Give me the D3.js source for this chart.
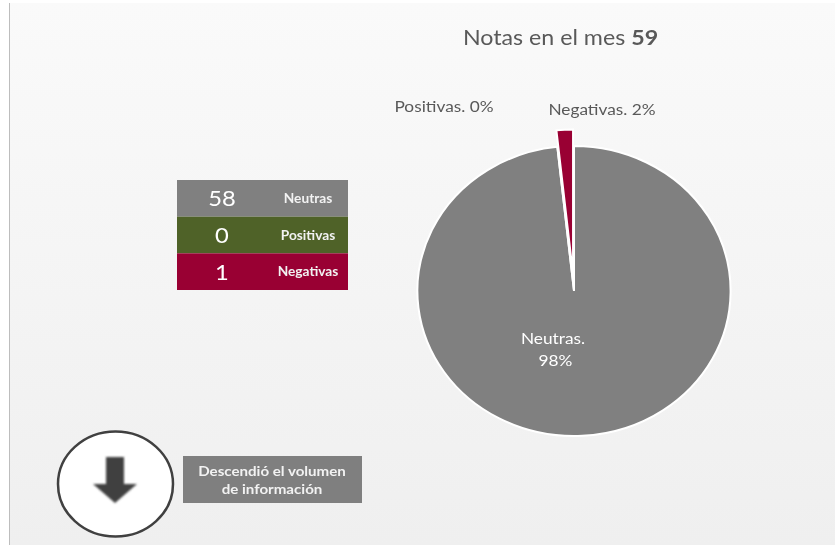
<!DOCTYPE html>
<html lang="es">
<head>
    <meta charset="UTF-8">
    <title>Notas en el mes</title>
    <script src="https://d3js.org/d3.v7.min.js"></script>
    <style>
        html, body { margin: 0; padding: 0; background: #fff; overflow: hidden; }
        svg { display: block; filter: blur(0.35px); }
        text { font-family: Lato, "Open Sans", sans-serif; }
    </style>
</head>
<body>
    <svg width="835" height="545"></svg>

    <script>
        // Datos
        const categories = ["Neutras", "Positivas", "Negativas"];
        const values = [58, 0, 1];
        const percents = ["98%", "0%", "2%"];
        const colors = ["#808080", "#4f6228", "#990033"];
        const total = 59;
        const noteLines = ["Descendió el volumen", "de información"];

        // La imagen original está algo estirada en horizontal
        const stretch = 1.08;
        const place = (x, y) => `translate(${x},${y}) scale(${stretch},1)`;

        const svg = d3.select("svg");
        const defs = svg.append("defs");

        // Fondo con degradado
        const grad = defs.append("linearGradient")
            .attr("id", "bg").attr("x1", 0).attr("y1", 0).attr("x2", 0).attr("y2", 1);
        grad.append("stop").attr("offset", "0%").attr("stop-color", "#fafafa");
        grad.append("stop").attr("offset", "100%").attr("stop-color", "#efefef");

        defs.append("filter").attr("id", "soft")
            .append("feGaussianBlur").attr("stdDeviation", 0.9);

        svg.append("rect")
            .attr("x", 9).attr("y", 3).attr("width", 826).attr("height", 542)
            .attr("fill", "url(#bg)");
        svg.append("line")
            .attr("x1", 9.5).attr("x2", 9.5).attr("y1", 3).attr("y2", 545)
            .attr("stroke", "#bdbdbd").attr("stroke-width", 1);

        // Título
        const title = svg.append("text")
            .attr("transform", place(560.5, 45))
            .attr("text-anchor", "middle")
            .attr("font-size", 21.5)
            .attr("fill", "#595959");
        title.append("tspan").text("Notas en el mes ");
        title.append("tspan").attr("font-weight", 700).text(total);

        // Pastel
        const radius = 145;
        const pie = d3.pie().sort(null).value(d => d)(values);
        const arc = d3.arc().innerRadius(0).outerRadius(radius);
        const explode = 16.5;

        const pieG = svg.append("g")
            .attr("transform", place(574, 291));

        pieG.selectAll("path")
            .data(pie)
            .enter().append("path")
            .attr("d", arc)
            .attr("fill", (d, i) => colors[i])
            .attr("stroke", "#fff")
            .attr("stroke-width", 2)
            .attr("vector-effect", "non-scaling-stroke")
            .attr("transform", (d, i) => {
                if (categories[i] !== "Negativas") return null;
                const mid = (d.startAngle + d.endAngle) / 2;
                return `translate(${Math.sin(mid) * explode},${-Math.cos(mid) * explode})`;
            });

        // Etiquetas del pastel
        const labelStyle = sel => sel
            .attr("text-anchor", "middle")
            .attr("font-size", 16);

        svg.append("text").call(labelStyle)
            .attr("transform", place(444, 111.5)).attr("fill", "#595959")
            .text(`${categories[1]}. ${percents[1]}`);
        svg.append("text").call(labelStyle)
            .attr("transform", place(602, 114.5)).attr("fill", "#595959")
            .text(`${categories[2]}. ${percents[2]}`);
        svg.append("text").call(labelStyle)
            .attr("transform", place(553, 343.5)).attr("fill", "#fff")
            .text(`${categories[0]}.`);
        svg.append("text").call(labelStyle)
            .attr("transform", place(555.5, 365.5)).attr("fill", "#fff")
            .text(percents[0]);

        // Tabla de resumen
        const rowY = d3.scaleBand().domain(categories).range([180, 290]);
        const rows = svg.selectAll(".row")
            .data(categories)
            .enter().append("g")
            .attr("class", "row")
            .attr("transform", d => `translate(177,${rowY(d)})`);

        rows.append("rect")
            .attr("width", 171)
            .attr("height", rowY.bandwidth())
            .attr("fill", (d, i) => colors[i]);
        rows.append("text")
            .attr("transform", place(45, rowY.bandwidth() / 2 + 8))
            .attr("text-anchor", "middle")
            .attr("font-size", 22)
            .attr("fill", "#fff")
            .text((d, i) => values[i]);
        rows.append("text")
            .attr("transform", place(131, rowY.bandwidth() / 2 + 4.5))
            .attr("text-anchor", "middle")
            .attr("font-size", 12.7)
            .attr("font-weight", 700)
            .attr("fill", "#f2f2f2")
            .text(d => d);

        // Círculo con flecha
        svg.append("ellipse")
            .attr("cx", 115.5).attr("cy", 484)
            .attr("rx", 57.5).attr("ry", 52.5)
            .attr("fill", "#fff")
            .attr("stroke", "#404040")
            .attr("stroke-width", 2.5);
        svg.append("path")
            .attr("d", d3.line()([[106, 457], [124, 457], [124, 484], [137, 484], [115, 503], [93, 484], [106, 484]]) + "Z")
            .attr("fill", "#404040")
            .attr("filter", "url(#soft)");

        // Nota
        svg.append("rect")
            .attr("x", 183).attr("y", 456)
            .attr("width", 179).attr("height", 47)
            .attr("fill", "#7f7f7f");
        svg.append("g").selectAll("text")
            .data(noteLines)
            .enter().append("text")
            .attr("transform", (d, i) => place(272, 475.5 + i * 18.5))
            .attr("text-anchor", "middle")
            .attr("font-size", 14)
            .attr("font-weight", 700)
            .attr("fill", "#f2f2f2")
            .text(d => d);
    </script>
</body>
</html>
